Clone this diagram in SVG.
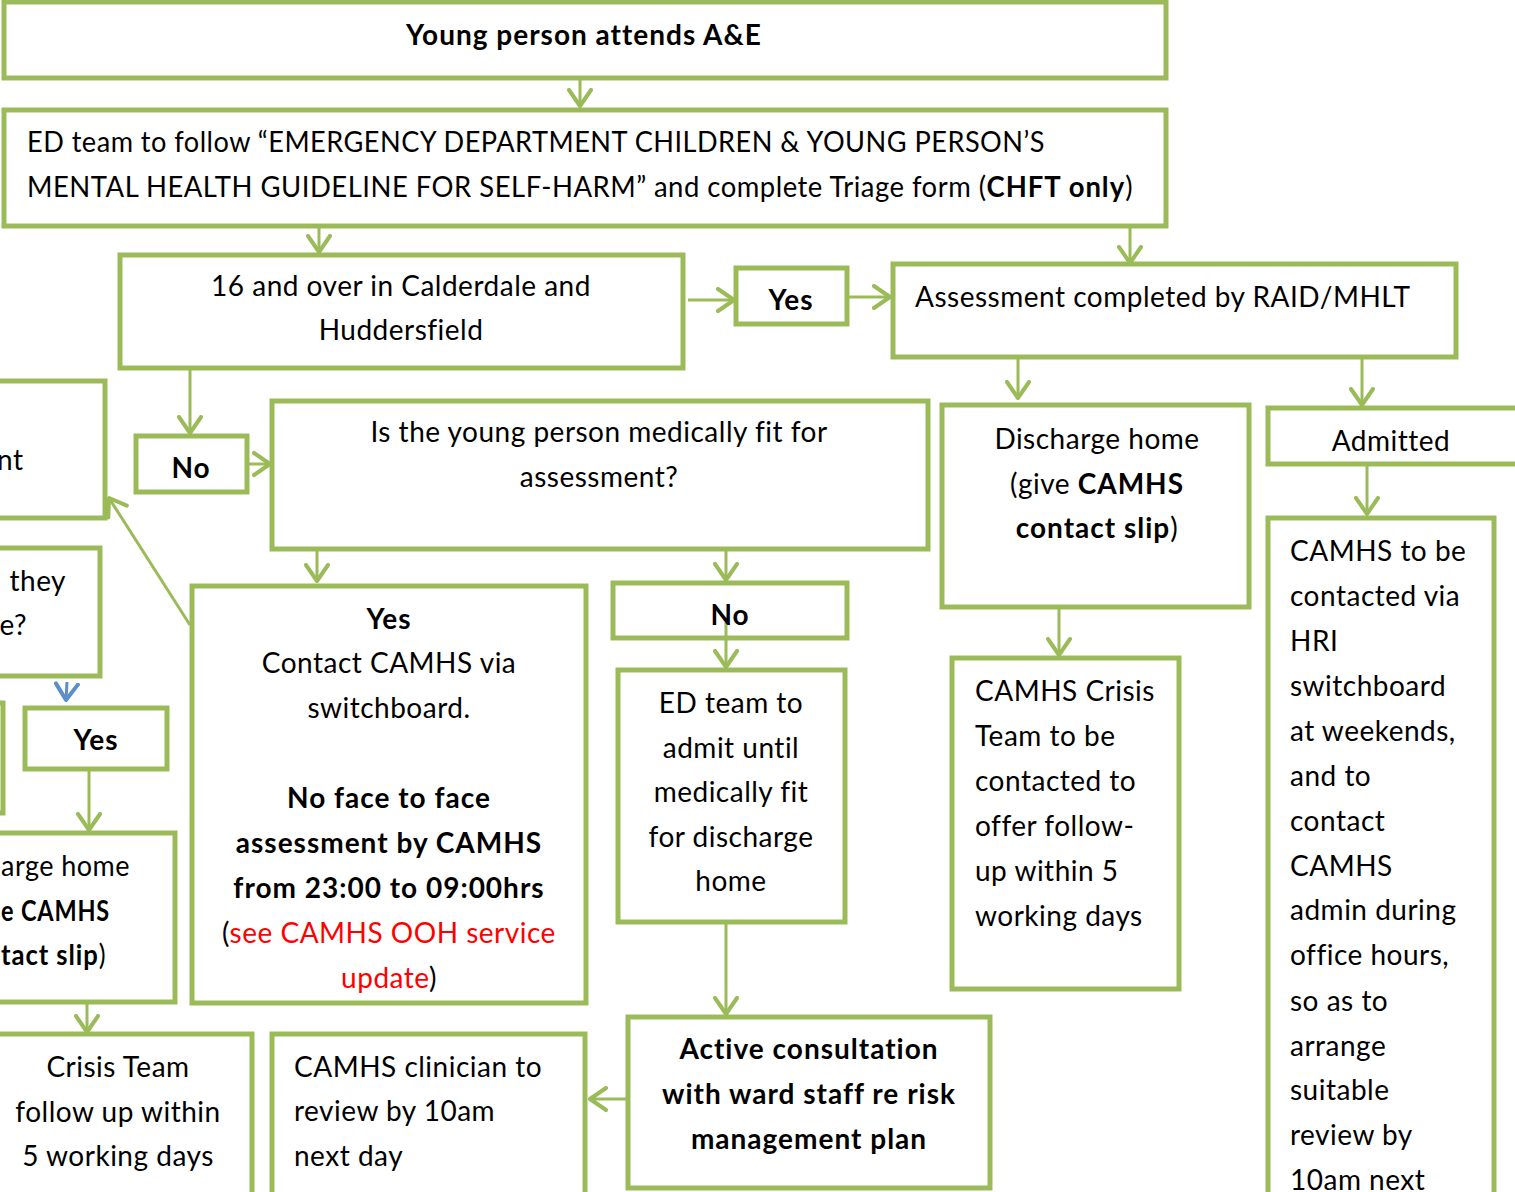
<svg xmlns="http://www.w3.org/2000/svg" width="1515" height="1192" viewBox="0 0 1515 1192">
<defs>
<style>
.box{fill:#fff;stroke:#9BBB59;stroke-width:5}
.t{font-family:Lato,"Open Sans",sans-serif;font-size:28px;fill:#000;letter-spacing:0.5px}
.c{text-anchor:middle}
.e{text-anchor:end}
.b{font-weight:bold;letter-spacing:1px}
.r{fill:#FF0000}
.ln{stroke:#9BBB59;stroke-width:3;fill:none}
</style>
<marker id="ah" viewBox="0 0 20 26" refX="18" refY="13" markerWidth="20" markerHeight="26" markerUnits="userSpaceOnUse" orient="auto">
<path d="M2,2 L18,13 L2,24" fill="none" stroke="#9BBB59" stroke-width="4" stroke-linecap="round" stroke-linejoin="round"/>
</marker>
<marker id="ahb" viewBox="0 0 20 26" refX="18" refY="13" markerWidth="20" markerHeight="26" markerUnits="userSpaceOnUse" orient="auto">
<path d="M2,2 L18,13 L2,24" fill="none" stroke="#5B8FCB" stroke-width="4" stroke-linecap="round" stroke-linejoin="round"/>
</marker>
</defs>
<rect width="1515" height="1192" fill="#fff"/>

<g id="connectors">
<line class="ln" x1="580" y1="78" x2="580" y2="106" marker-end="url(#ah)"/>
<line class="ln" x1="319" y1="226" x2="319" y2="252" marker-end="url(#ah)"/>
<line class="ln" x1="1130" y1="226" x2="1130" y2="263" marker-end="url(#ah)"/>
<line class="ln" x1="688" y1="300" x2="734" y2="300" marker-end="url(#ah)"/>
<line class="ln" x1="848" y1="297" x2="890" y2="297" marker-end="url(#ah)"/>
<line class="ln" x1="1018" y1="357" x2="1018" y2="398" marker-end="url(#ah)"/>
<line class="ln" x1="1362" y1="357" x2="1362" y2="405" marker-end="url(#ah)"/>
<line class="ln" x1="1367" y1="466" x2="1367" y2="514" marker-end="url(#ah)"/>
<line class="ln" x1="1059" y1="607" x2="1059" y2="655" marker-end="url(#ah)"/>
<line class="ln" x1="190" y1="368" x2="190" y2="433" marker-end="url(#ah)"/>
<line class="ln" x1="247" y1="464" x2="270" y2="464" marker-end="url(#ah)"/>
<line class="ln" x1="317" y1="549" x2="317" y2="581" marker-end="url(#ah)"/>
<line class="ln" x1="726" y1="549" x2="726" y2="580" marker-end="url(#ah)"/>
<line class="ln" x1="726" y1="922" x2="726" y2="1014" marker-end="url(#ah)"/>
<line class="ln" x1="628" y1="1099" x2="590" y2="1099" marker-end="url(#ah)"/>
<line class="ln" x1="190" y1="625" x2="109" y2="498" marker-end="url(#ah)"/>
<line class="ln" x1="89" y1="769" x2="89" y2="830" marker-end="url(#ah)"/>
<line class="ln" x1="87" y1="1002" x2="87" y2="1032" marker-end="url(#ah)"/>
<line x1="67" y1="682" x2="66" y2="700" stroke="#5B8FCB" stroke-width="3" marker-end="url(#ahb)"/>
</g>

<g id="n1"><rect class="box" x="4" y="2" width="1162" height="76"/>
<text class="t c b" x="584" y="45">Young person attends A&amp;E</text></g>

<g id="n2"><rect class="box" x="4" y="110" width="1162" height="116"/>
<text class="t" x="27" y="152" textLength="1018" lengthAdjust="spacingAndGlyphs">ED team to follow “EMERGENCY DEPARTMENT CHILDREN &amp; YOUNG PERSON’S</text>
<text class="t" x="27" y="197" textLength="1106" lengthAdjust="spacingAndGlyphs">MENTAL HEALTH GUIDELINE FOR SELF-HARM” and complete Triage form (<tspan class="b">CHFT only</tspan>)</text></g>

<g id="n3"><rect class="box" x="120" y="255" width="563" height="113"/>
<text class="t c" x="401" y="296">16 and over in Calderdale and</text>
<text class="t c" x="401" y="340">Huddersfield</text></g>

<g id="n4"><rect class="box" x="736" y="268" width="111" height="56"/>
<text class="t c b" x="791" y="310">Yes</text></g>

<g id="n5"><rect class="box" x="893" y="264" width="563" height="93"/>
<text class="t" x="915" y="307">Assessment completed by RAID/MHLT</text></g>

<g id="n6"><rect class="box" x="942" y="405" width="307" height="202"/>
<text class="t c" x="1097" y="449">Discharge home</text>
<text class="t c" x="1097" y="494">(give <tspan class="b">CAMHS</tspan></text>
<text class="t c" x="1097" y="538"><tspan class="b">contact slip</tspan>)</text></g>

<g id="n7"><rect class="box" x="1268" y="408" width="252" height="56"/>
<text class="t c" x="1391" y="451">Admitted</text></g>

<g id="n8"><rect class="box" x="1268" y="518" width="226" height="690"/>
<text class="t" x="1290" y="561">CAMHS to be</text>
<text class="t" x="1290" y="606">contacted via</text>
<text class="t" x="1290" y="651">HRI</text>
<text class="t" x="1290" y="696">switchboard</text>
<text class="t" x="1290" y="741">at weekends,</text>
<text class="t" x="1290" y="786">and to</text>
<text class="t" x="1290" y="831">contact</text>
<text class="t" x="1290" y="876">CAMHS</text>
<text class="t" x="1290" y="920">admin during</text>
<text class="t" x="1290" y="965">office hours,</text>
<text class="t" x="1290" y="1011">so as to</text>
<text class="t" x="1290" y="1056">arrange</text>
<text class="t" x="1290" y="1100">suitable</text>
<text class="t" x="1290" y="1145">review by</text>
<text class="t" x="1290" y="1190">10am next</text></g>

<g id="n9"><rect class="box" x="952" y="658" width="227" height="331"/>
<text class="t" x="975" y="701">CAMHS Crisis</text>
<text class="t" x="975" y="746">Team to be</text>
<text class="t" x="975" y="791">contacted to</text>
<text class="t" x="975" y="836">offer follow-</text>
<text class="t" x="975" y="881">up within 5</text>
<text class="t" x="975" y="926">working days</text></g>

<g id="n10"><rect class="box" x="136" y="436" width="111" height="56"/>
<text class="t c b" x="191" y="478">No</text></g>

<g id="n11"><rect class="box" x="272" y="401" width="656" height="148"/>
<text class="t c" x="599" y="442">Is the young person medically fit for</text>
<text class="t c" x="599" y="487">assessment?</text></g>

<g id="n12"><rect class="box" x="192" y="586" width="394" height="417"/>
<text class="t c b" x="389" y="629">Yes</text>
<text class="t c" x="389" y="673">Contact CAMHS via</text>
<text class="t c" x="389" y="718">switchboard.</text>
<text class="t c b" x="389" y="808">No face to face</text>
<text class="t c b" x="389" y="853">assessment by CAMHS</text>
<text class="t c b" x="389" y="898">from 23:00 to 09:00hrs</text>
<text class="t c" x="389" y="943">(<tspan class="r">see CAMHS OOH service</tspan></text>
<text class="t c" x="389" y="988"><tspan class="r">update</tspan>)</text></g>

<g id="n13"><rect class="box" x="613" y="583" width="234" height="55"/>
<line class="ln" x1="726" y1="622" x2="726" y2="667" marker-end="url(#ah)"/>
<text class="t c b" x="730" y="625">No</text></g>

<g id="n14"><rect class="box" x="618" y="670" width="227" height="252"/>
<text class="t c" x="731" y="713">ED team to</text>
<text class="t c" x="731" y="758">admit until</text>
<text class="t c" x="731" y="802">medically fit</text>
<text class="t c" x="731" y="847">for discharge</text>
<text class="t c" x="731" y="891">home</text></g>

<g id="n15"><rect class="box" x="628" y="1017" width="362" height="171"/>
<text class="t c b" x="809" y="1059">Active consultation</text>
<text class="t c b" x="809" y="1104">with ward staff re risk</text>
<text class="t c b" x="809" y="1149">management plan</text></g>

<g id="n16"><rect class="box" x="272" y="1034" width="313" height="170"/>
<text class="t" x="294" y="1077">CAMHS clinician to</text>
<text class="t" x="294" y="1121">review by 10am</text>
<text class="t" x="294" y="1166">next day</text></g>

<g id="n17"><rect class="box" x="-20" y="381" width="125" height="137"/>
<text class="t" x="-3" y="470">nt</text></g>

<g id="n18"><rect class="box" x="-20" y="548" width="120" height="128"/>
<text class="t e" x="66" y="591">they</text>
<text class="t e" x="27" y="635">e?</text></g>

<g id="n19"><rect class="box" x="-20" y="703" width="23" height="110"/></g>

<g id="n20"><rect class="box" x="25" y="708" width="142" height="61"/>
<text class="t c b" x="96" y="750">Yes</text></g>

<g id="n21"><rect class="box" x="-20" y="833" width="195" height="169"/>
<text class="t" x="1" y="876" textLength="129" lengthAdjust="spacingAndGlyphs">arge home</text>
<text class="t b" x="1" y="921" textLength="109" lengthAdjust="spacingAndGlyphs">e CAMHS</text>
<text class="t" x="1" y="965" textLength="105" lengthAdjust="spacingAndGlyphs"><tspan class="b">tact slip</tspan>)</text></g>

<g id="n22"><rect class="box" x="-20" y="1034" width="272" height="170"/>
<text class="t c" x="118" y="1077">Crisis Team</text>
<text class="t c" x="118" y="1122">follow up within</text>
<text class="t c" x="118" y="1166">5 working days</text></g>
</svg>
